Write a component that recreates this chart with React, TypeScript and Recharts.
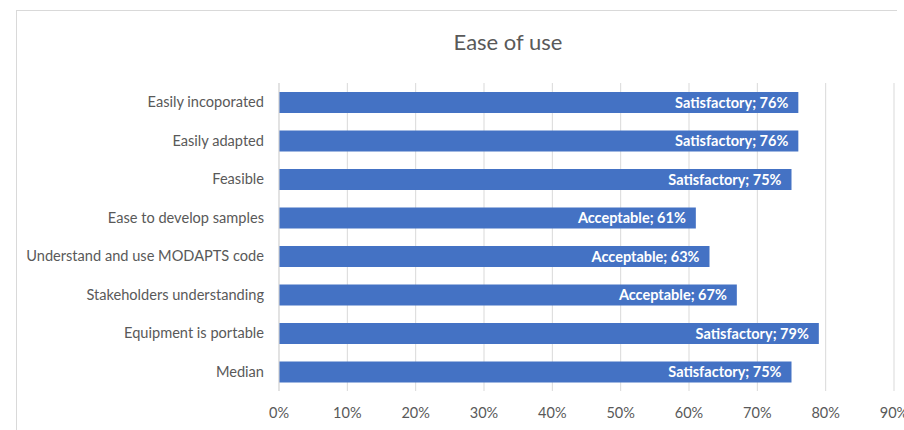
import React from "react";
import { BarChart, Bar, XAxis, YAxis, CartesianGrid, LabelList } from "recharts";

const categories = [
  "Easily incoporated",
  "Easily adapted",
  "Feasible",
  "Ease to develop samples",
  "Understand and use MODAPTS code",
  "Stakeholders understanding",
  "Equipment is portable",
  "Median",
];
const values = [76, 76, 75, 61, 63, 67, 79, 75];
const ratings = [
  "Satisfactory",
  "Satisfactory",
  "Satisfactory",
  "Acceptable",
  "Acceptable",
  "Acceptable",
  "Satisfactory",
  "Satisfactory",
];
const xTicks = [0, 10, 20, 30, 40, 50, 60, 70, 80, 90];
const title = "Ease of use";

const data = categories.map((c, i) => ({
  name: c,
  value: values[i],
  label: `${ratings[i]}; ${values[i]}%`,
}));

const FONT = "Lato, 'Open Sans', sans-serif";

export default function App() {
  return (
    <div
      style={{
        position: "absolute",
        left: 0,
        top: 0,
        width: 904,
        height: 430,
        overflow: "hidden",
        background: "#fff",
        fontFamily: FONT,
      }}
    >
      <div
        style={{
          position: "absolute",
          left: 16,
          top: 10,
          width: 880,
          height: 440,
          borderTop: "1px solid #d9d9d9",
          borderLeft: "1px solid #d9d9d9",
        }}
      />
      <div
        style={{
          position: "absolute",
          left: 408,
          width: 200,
          top: 28,
          textAlign: "center",
          fontSize: 22,
          color: "#595959",
          lineHeight: "28px",
        }}
      >
        {title}
      </div>
      <div style={{ position: "absolute", left: 0, top: 0 }}>
        <BarChart
          width={912}
          height={430}
          data={data}
          layout="vertical"
          margin={{ top: 83, right: 18, bottom: 9, left: 0 }}
          barSize={21}
        >
          <CartesianGrid horizontal={false} vertical stroke="#d9d9d9" />
          <XAxis
            type="number"
            domain={[0, 90]}
            ticks={xTicks}
            tickFormatter={(v: number) => `${v}%`}
            axisLine={false}
            tickLine={false}
            tickMargin={11}
            height={30}
            interval={0}
            tick={{ fill: "#595959", fontSize: 14.5, fontFamily: FONT }}
          />
          <YAxis
            type="category"
            dataKey="name"
            width={279}
            axisLine={{ stroke: "#d9d9d9" }}
            tickLine={false}
            tickMargin={9}
            interval={0}
            tick={{ fill: "#595959", fontSize: 14.6, fontFamily: FONT }}
          />
          <Bar dataKey="value" fill="#4472C4" isAnimationActive={false}>
            <LabelList
              dataKey="label"
              position="insideRight"
              offset={10}
              fill="#ffffff"
              style={{ fontSize: 14.5, fontWeight: 700, fontFamily: FONT }}
            />
          </Bar>
        </BarChart>
      </div>
    </div>
  );
}
